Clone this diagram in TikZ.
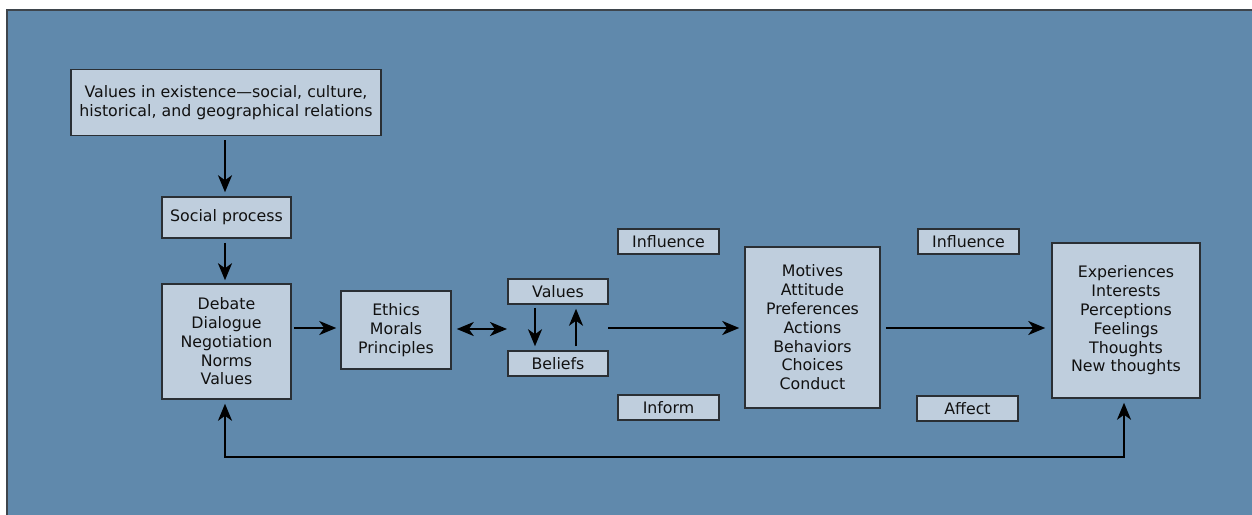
\documentclass[tikz,border=0pt]{standalone}
\usepackage{fontspec}
\setmainfont{DejaVu Sans}
\usetikzlibrary{arrows.meta,calc}
\definecolor{bgblue}{HTML}{6089AC}
\definecolor{boxfill}{HTML}{BFCEDD}
\definecolor{boxline}{HTML}{2A2F34}
\definecolor{frameline}{HTML}{3E454C}
\definecolor{txt}{HTML}{111111}
\begin{document}
\begin{tikzpicture}[x=1pt,y=-1pt,
  every node/.style={font=\fontsize{15.8}{18.8}\selectfont, text=txt},
  stepbox/.style={draw=boxline, line width=1.5pt, fill=boxfill, inner sep=0pt, align=center},
  arr/.style={line width=2.3pt, -{Stealth[length=17pt,width=14pt,inset=5pt]}},
  darr/.style={line width=2.3pt, {Stealth[length=17pt,width=14pt,inset=5pt]}-{Stealth[length=17pt,width=14pt,inset=5pt]}}]
\useasboundingbox (0,0) rectangle (1252,514);
\fill[bgblue] (7,10) rectangle (1253,515);
\draw[frameline, line width=2pt] (7,515) -- (7,10) -- (1253,10);

\node[stepbox, minimum width=310pt, minimum height=66pt] (top) at (226,102.5)
  {Values in existence—social, culture,\\historical, and geographical relations};
\node[stepbox, minimum width=129pt, minimum height=41pt] (soc) at (226.5,217.5) {Social process};
\node[stepbox, minimum width=129pt, minimum height=115pt] (deb) at (226.5,341.5)
  {Debate\\Dialogue\\Negotiation\\Norms\\Values};
\node[stepbox, minimum width=110pt, minimum height=78pt] (eth) at (396,330)
  {Ethics\\Morals\\Principles};
\node[stepbox, minimum width=100pt, minimum height=25pt] (val) at (558,291.5) {Values};
\node[stepbox, minimum width=100pt, minimum height=25pt] (bel) at (558,363.5) {Beliefs};
\node[stepbox, minimum width=101pt, minimum height=25pt] (inf1) at (668.5,241.5) {Influence};
\node[stepbox, minimum width=101pt, minimum height=25pt] (inform) at (668.5,407.5) {Inform};
\node[stepbox, minimum width=135pt, minimum height=161pt] (mot) at (812.5,327.5)
  {Motives\\Attitude\\Preferences\\Actions\\Behaviors\\Choices\\Conduct};
\node[stepbox, minimum width=101pt, minimum height=25pt] (inf2) at (968.5,241.5) {Influence};
\node[stepbox, minimum width=101pt, minimum height=25pt] (aff) at (967.5,408.5) {Affect};
\node[stepbox, minimum width=148pt, minimum height=155pt] (exp) at (1126,320.5)
  {Experiences\\Interests\\Perceptions\\Feelings\\Thoughts\\New thoughts};

\coordinate (vbl) at (508,329);
\coordinate (vbr) at (608,328);
\coordinate (lb) at (225,457);
\coordinate (rb) at (1124,457);

\draw[arr, shorten <=4pt, shorten >=4pt] (top.south -| 225,0) -- (soc.north -| 225,0);
\draw[arr, shorten <=4pt, shorten >=3pt] (soc.south -| 225,0) -- (deb.north -| 225,0);
\draw[arr, shorten <=2pt, shorten >=4pt] (deb.east |- 0,328) -- (eth.west |- 0,328);
\draw[darr, shorten <=5pt, shorten >=1pt] (eth.east |- vbl) -- (vbl);
\draw[arr, shorten <=3pt, shorten >=4pt] (val.south -| 535,0) -- (bel.north -| 535,0);
\draw[arr, shorten <=4pt, shorten >=4pt] (bel.north -| 576,0) -- (val.south -| 576,0);
\draw[arr, shorten >=5pt] (vbr) -- (mot.west |- vbr);
\draw[arr, shorten <=5pt, shorten >=6pt] (mot.east |- vbr) -- (exp.west |- vbr);
\draw[darr, shorten <=4pt, shorten >=4pt] (deb.south -| lb) -- (lb) -- (rb) -- (exp.south -| rb);
\end{tikzpicture}
\end{document}
